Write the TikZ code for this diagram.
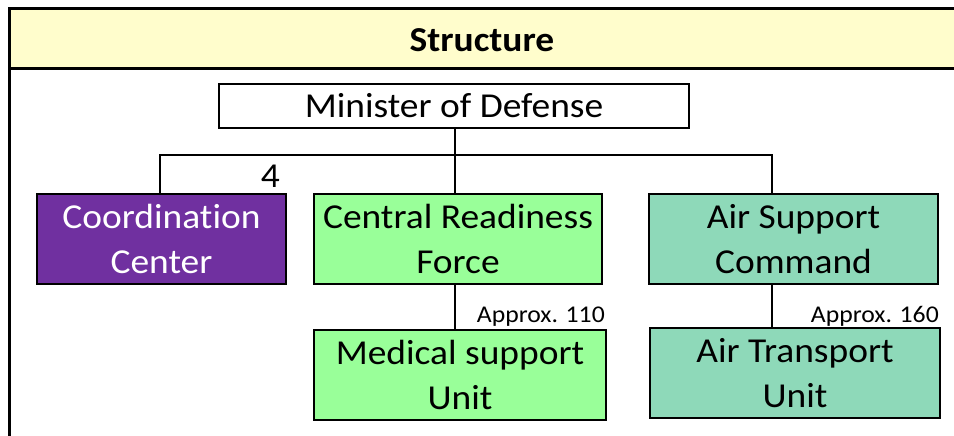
\documentclass[tikz,border=0pt]{standalone}
\usepackage{fontspec}
\setmainfont[FakeStretch=1.07,Ligatures=CommonOff]{Carlito}
\definecolor{headfill}{HTML}{FFFDCC}
\definecolor{coordfill}{HTML}{7030A0}
\definecolor{crffill}{HTML}{99FF99}
\definecolor{ascfill}{HTML}{8ED9B9}
\begin{document}
\begin{tikzpicture}[x=1pt,y=-1pt,
  unitbox/.style={draw=black, line width=1.5pt, minimum width=288pt, minimum height=90pt,
    align=center, font=\fontsize{35}{45}\selectfont, inner sep=0pt},
  link/.style={draw=black, line width=1.3pt},
  note/.style={font=\fontsize{24}{28}\selectfont, inner sep=0pt, anchor=base east}]
  \useasboundingbox (0,0) rectangle (954,436);
  % header band
  \fill[headfill] (9,9) rectangle (954,69);
  \draw[line width=3pt] (954,9) -- (9,9) -- (9,436);
  \draw[line width=3pt] (9,69) -- (954,69);
  \node[font=\fontsize{35}{40}\selectfont\bfseries] (title) at (482,40) {Structure};
  % top of the hierarchy
  \node[draw=black, line width=1.5pt, minimum width=470pt, minimum height=44pt,
    font=\fontsize{35}{40}\selectfont, inner sep=0pt] (mod) at (454,106) {Minister of Defense};
  % first level
  \node[unitbox, fill=coordfill, text=white, minimum width=249pt] (cc) at (161.5,239) {Coordination\\Center};
  \node[unitbox, fill=crffill] (crf) at (458,239) {Central Readiness\\Force};
  \node[unitbox, fill=ascfill, minimum width=289pt] (asc) at (793.5,239) {Air Support\\Command};
  % second level
  \node[unitbox, fill=crffill, minimum width=292pt] (msu) at (460,375) {Medical support\\Unit};
  \node[unitbox, fill=ascfill, minimum width=290pt] (atu) at (795,373) {Air Transport\\Unit};
  % connectors
  \coordinate (bus) at (455,155);
  \draw[link] (mod.south -| bus) -- (bus);
  \draw[link] (cc.north -| 160,0) |- (bus) -| (asc.north -| 772,0);
  \draw[link] (bus) -- (crf.north -| bus);
  \draw[link] (crf.south -| bus) -- (msu.north -| bus);
  \draw[link] (asc.south -| 772,0) -- (atu.north -| 772,0);
  % staff numbers
  \node[font=\fontsize{35}{40}\selectfont, inner sep=0pt, anchor=base east] (n4) at (280,187) {4};
  \node[note] (n110) at (605,322) {Approx. 110};
  \node[note] (n160) at (939,322) {Approx. 160};
\end{tikzpicture}
\end{document}
